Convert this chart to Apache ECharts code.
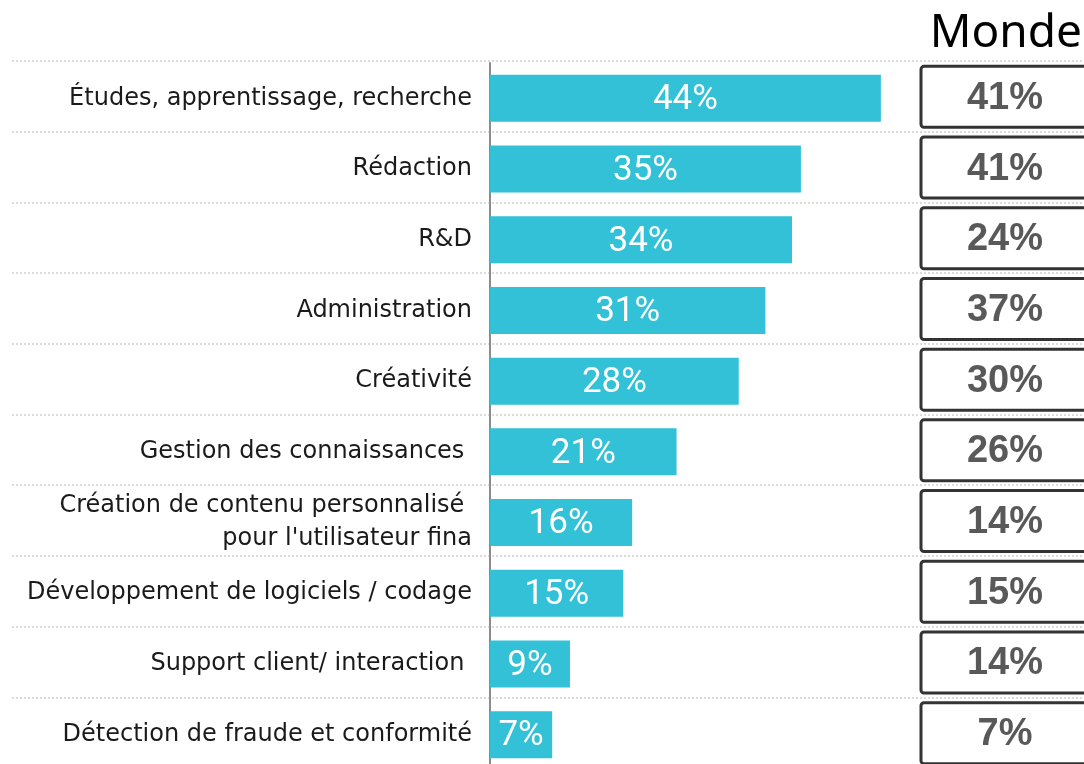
<!DOCTYPE html>
<html>
<head>
<meta charset="utf-8">
<script src="https://cdn.jsdelivr.net/npm/echarts@6/dist/echarts.min.js"></script>
<style>
  html, body { margin: 0; padding: 0; background: #fff; }
  #chart { width: 1084px; height: 764px; }
</style>
</head>
<body>
<div id="chart"></div>
<script>
// catégories (haut -> bas)
var categories = [
  'Études, apprentissage, recherche',
  'Rédaction',
  'R&D',
  'Administration',
  'Créativité',
  'Gestion des connaissances ',
  'Création de contenu personnalisé \npour l\'utilisateur fina',
  'Développement de logiciels / codage',
  'Support client/ interaction ',
  'Détection de fraude et conformité'
];
// valeurs France (barres)
var franceValues = [44, 35, 34, 31, 28, 21, 16, 15, 9, 7];
// valeurs Monde (encadrés)
var mondeValues = [41, 41, 24, 37, 30, 26, 14, 15, 14, 7];

var chart = echarts.init(document.getElementById('chart'));

var gridTop = 61;
var gridHeight = 707;

chart.setOption({
  animation: false,
  title: {
    text: 'Monde',
    right: -3,
    top: 6,
    textStyle: {
      fontFamily: 'Noto Sans',
      fontSize: 46,
      fontWeight: 'normal',
      color: '#000'
    }
  },
  grid: [
    // grille de fond pour les pointillés + encadrés Monde
    { left: 12, right: 0, top: gridTop, height: gridHeight, outerBoundsMode: 'none' },
    // barres (légèrement décalées vers le bas)
    { left: 490, width: 533, top: gridTop + 2, height: gridHeight, outerBoundsMode: 'none' }
  ],
  xAxis: [
    { gridIndex: 0, type: 'value', min: 0, max: 1, show: false },
    { gridIndex: 1, type: 'value', min: 0, max: 60, show: false }
  ],
  yAxis: [
    {
      gridIndex: 0,
      type: 'category',
      inverse: true,
      data: categories,
      axisLine: { show: false },
      axisTick: { show: false },
      axisLabel: { show: false },
      splitLine: {
        show: true,
        lineStyle: { color: '#cfcfcf', width: 1.5, type: [2, 2] }
      }
    },
    {
      gridIndex: 1,
      type: 'category',
      inverse: true,
      data: categories,
      axisLine: { show: true, lineStyle: { color: '#8c8c8c', width: 2 } },
      axisTick: { show: false },
      splitLine: { show: false },
      axisLabel: {
        margin: 18,
        color: '#1a1a1a',
        fontFamily: 'DejaVu Sans',
        fontSize: 24,
        lineHeight: 33
      }
    }
  ],
  series: [
    {
      type: 'bar',
      xAxisIndex: 1,
      yAxisIndex: 1,
      data: franceValues,
      barWidth: 47,
      itemStyle: { color: '#32C1D7' },
      label: {
        show: true,
        position: 'inside',
        offset: [0, 2],
        formatter: '{c}%',
        color: '#fff',
        fontFamily: 'Roboto',
        fontSize: 35
      }
    },
    {
      type: 'custom',
      xAxisIndex: 0,
      yAxisIndex: 0,
      data: mondeValues.map(function (v, i) { return [0, i, v]; }),
      renderItem: function (params, api) {
        var c = api.coord([0, api.value(1)]);
        return {
          type: 'group',
          children: [
            {
              type: 'rect',
              shape: { x: 921, y: c[1] - 30, width: 172, height: 61, r: 3 },
              style: { fill: '#fff', stroke: '#333', lineWidth: 3 }
            },
            {
              type: 'text',
              style: {
                x: 1005,
                y: c[1] + 2,
                text: api.value(2) + '%',
                align: 'center',
                verticalAlign: 'middle',
                fontFamily: 'Liberation Sans',
                fontWeight: 'bold',
                fontSize: 38,
                fill: '#595959'
              }
            }
          ]
        };
      }
    }
  ]
});
</script>
</body>
</html>
